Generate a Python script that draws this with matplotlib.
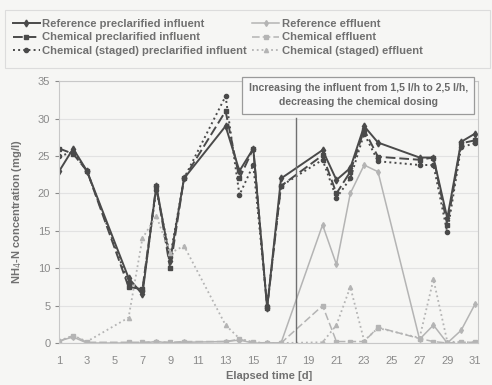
import matplotlib
matplotlib.use("Agg")
import matplotlib.pyplot as plt
from matplotlib.patches import Rectangle

plt.rcParams['font.family'] = ['Liberation Sans', 'DejaVu Sans']

# sampling days
days = [1, 2, 3, 6, 7, 8, 9, 10, 13, 14, 15, 16, 17, 20, 21, 22, 23, 24, 27, 28, 29, 30, 31]

# influent NH4-N (mg/l)
ref_infl = [23, 26, 23, 8.7, 6.5, 21, 11, 22, 29, 23, 26, 4.7, 22, 25.8, 21.8, 23.4, 29, 26.8, 24.8, 24.8, 16.7, 26.9, 28]
chem_infl = [26, 25.3, 23, 7.5, 7.2, 21, 10, 22, 31, 22, 26, 4.7, 21, 25.1, 20, 22.9, 28.5, 24.9, 24.5, 24.8, 15.8, 26.7, 27.1]
staged_infl = [25, 25.5, 23, 8, 7, 20.5, 11.5, 22, 33, 19.8, 23.8, 5, 21, 24.5, 19.4, 22, 28, 24.3, 23.8, 23.8, 14.8, 26.2, 26.7]

# effluent NH4-N (mg/l)
ref_eff = [0.3, 0.8, 0, 0, 0, 0.2, 0, 0.1, 0.2, 0.4, 0, 0, 0, 15.8, 10.5, 20, 23.8, 22.9, 0.5, 2.4, 0, 1.7, 5.2]
chem_eff = [0.2, 1.0, 0.1, 0.1, 0.1, 0.2, 0.1, 0.2, 0.2, 0.5, 0.1, 0, 0, 5.0, 0.2, 0.2, 0.2, 2.1, 0.6, 0.2, 0, 0.1, 0.1]
staged_eff = [0.3, 1.0, 0.2, 3.4, 14, 17, 12, 13, 2.4, 0.6, 0.1, 0, 0, 0.1, 2.4, 7.5, 0.3, 2.0, 0.7, 8.5, 0.2, 0.1, 0.1]

x_ticks = list(range(1, 32, 2))
y_ticks = list(range(0, 36, 5))

dark = '#4a4a4a'
light = '#b4b4b4'
bg = '#f6f6f4'

fig = plt.figure(figsize=(4.92, 3.85), dpi=100, facecolor=bg)
ax = fig.add_axes([0.1205, 0.109, 0.852, 0.68], facecolor=bg)

l1, = ax.plot(days, ref_infl, '-', color=dark, lw=1.4, marker='d', ms=3.5, label='Reference preclarified influent')
l2, = ax.plot(days, chem_infl, '--', color=dark, lw=1.4, marker='s', ms=3.5, dashes=(5, 2), label='Chemical preclarified influent')
l3, = ax.plot(days, staged_infl, ':', color=dark, lw=1.4, marker='o', ms=3, label='Chemical (staged) preclarified influent')
l4, = ax.plot(days, ref_eff, '-', color=light, lw=1.1, marker='d', ms=3, label='Reference effluent')
l5, = ax.plot(days, chem_eff, '--', color=light, lw=1.1, marker='s', ms=2.8, dashes=(5, 2), label='Chemical effluent')
l6, = ax.plot(days, staged_eff, ':', color=light, lw=1.3, marker='^', ms=3, label='Chemical (staged) effluent')

ax.set_xlim(1, 31.25)
ax.set_ylim(0, 35)
ax.set_xticks(x_ticks)
ax.set_yticks(y_ticks)
ax.yaxis.grid(True, color='#e2e2e2', lw=0.8)
ax.set_axisbelow(True)
for s in ax.spines.values():
    s.set_color('#c8c8c8')
ax.tick_params(colors='#8a8a8a', labelsize=8, length=3)
ax.tick_params(axis='x', length=0, pad=9)

ax.set_xlabel('Elapsed time [d]', fontsize=8, fontweight='bold', color='#707070', labelpad=4)
ax.set_ylabel('NH$_4$-N concentration (mg/l)', fontsize=8, fontweight='bold', color='#707070', labelpad=10)

# change of operating conditions
ax.axvline(18.1, ymin=0, ymax=0.859, color='#707070', lw=1.0)
fig.text(0.728, 0.752, 'Increasing the influent from 1,5 l/h to 2,5 l/h,\ndecreasing the chemical dosing',
         ha='center', va='center', fontsize=7.6, fontweight='bold', color='#6a6a6a', linespacing=1.5,
         bbox=dict(boxstyle='square,pad=0.6', fc='#f8f8f8', ec='#9a9a9a', lw=0.9))

# legend frame spans the full width
fig.patches.append(Rectangle((5 / 492, 1 - 68 / 385), 485 / 492, 58 / 385, transform=fig.transFigure,
                             fc=bg, ec='#dcdcdc', lw=0.8))
leg = fig.legend(handles=[l1, l2, l3, l4, l5, l6], ncol=2, loc='upper left',
                 bbox_to_anchor=(7 / 492, 1 - 13 / 385), frameon=False,
                 handlelength=2.4, handletextpad=0.25, columnspacing=0.45,
                 labelspacing=0.34, borderpad=0, prop={'weight': 'bold', 'size': 8.1})
for t in leg.get_texts():
    t.set_color('#707070')

fig.savefig('out.png', dpi=100, facecolor=bg)
